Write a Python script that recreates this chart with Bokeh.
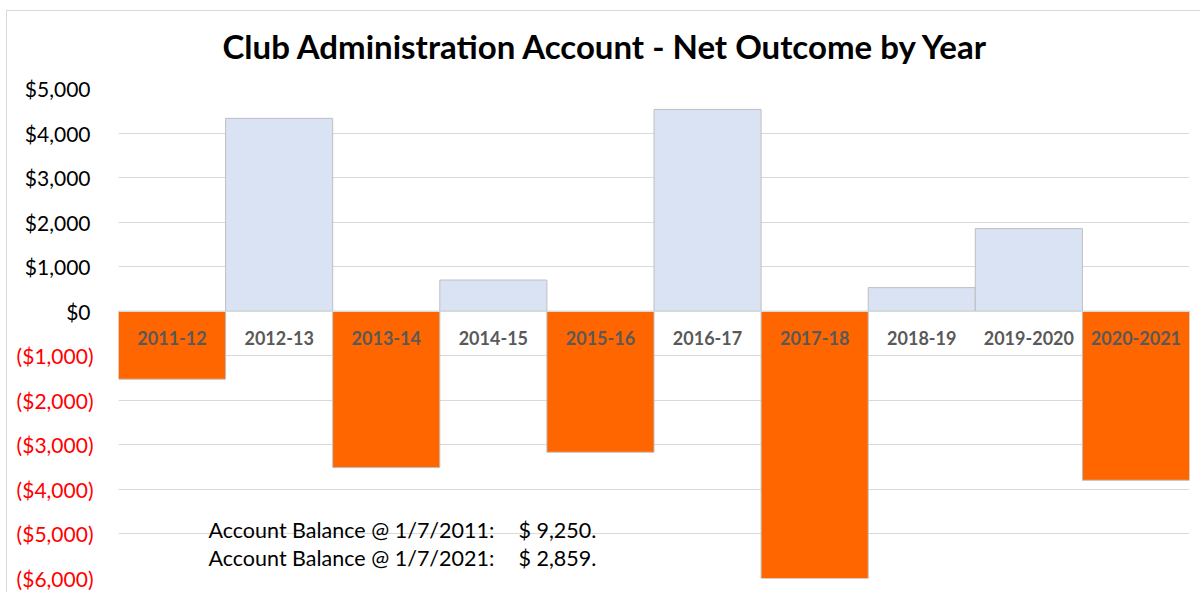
from bokeh.plotting import figure
from bokeh.models import FactorRange, Range1d, LinearAxis, FixedTicker, Label, ColumnDataSource
from bokeh.embed import file_html
from bokeh.resources import INLINE

# ---- data ----
years = ["2011-12", "2012-13", "2013-14", "2014-15", "2015-16",
         "2016-17", "2017-18", "2018-19", "2019-2020", "2020-2021"]
net_outcome = [-1525, 4330, -3510, 700, -3165, 4530, -6000, 530, 1855, -3795]

pos_ticks = [0, 1000, 2000, 3000, 4000, 5000]
pos_tick_labels = ["$0", "$1,000", "$2,000", "$3,000", "$4,000", "$5,000"]
neg_ticks = [-6000, -5000, -4000, -3000, -2000, -1000]
neg_tick_labels = ["($6,000)", "($5,000)", "($4,000)", "($3,000)", "($2,000)", "($1,000)"]

balance_labels = ["Account Balance @ 1/7/2011:", "Account Balance @ 1/7/2021:"]
balance_values = ["$ 9,250.", "$ 2,859."]

POS_COLOR = "#dae3f3"
NEG_COLOR = "#ff6600"
FONT = "Lato"

source = ColumnDataSource(dict(
    year=years,
    value=net_outcome,
    color=[POS_COLOR if v >= 0 else NEG_COLOR for v in net_outcome],
))

p = figure(
    x_range=FactorRange(factors=years),
    y_range=Range1d(-6000, 5000),
    width=1200, height=592,
    output_backend="svg", toolbar_location=None,
    title="Club Administration Account - Net Outcome by Year",
    min_border_left=118, min_border_right=11,
    min_border_top=88, min_border_bottom=14,
)
p.outline_line_color = None
p.background_fill_color = "white"
p.border_fill_color = None
# light chart-area border (top and left edges) drawn behind the transparent border area
p.styles = {
    "background": ("linear-gradient(#d9d9d9, #d9d9d9) 6px 10px / 1px 100% no-repeat, "
                   "linear-gradient(#d9d9d9, #d9d9d9) 6px 10px / 100% 1px no-repeat, white"),
}

p.vbar(x="year", top="value", bottom=0, width=1.0, source=source,
       fill_color="color", line_color="#bfbfbf", line_width=1)

# title
p.title.text_font = FONT
p.title.text_font_size = "33px"
p.title.text_font_style = "bold"
p.title.text_color = "#000000"
p.title.align = "left"
p.title.offset = 104
p.title.standoff = 46

# grid
p.xgrid.visible = False
p.ygrid.ticker = FixedTicker(ticks=neg_ticks + pos_ticks)
p.ygrid.grid_line_color = "#d9d9d9"
p.ygrid.grid_line_width = 1

# category axis at zero
xa = p.xaxis[0]
xa.fixed_location = 0
xa.axis_line_color = "#d9d9d9"
xa.major_tick_line_color = None
xa.minor_tick_line_color = None
xa.major_tick_out = 0
xa.major_tick_in = 0
xa.major_label_text_font = FONT
xa.major_label_text_font_size = "18px"
xa.major_label_text_font_style = "bold"
xa.major_label_text_color = "#595959"
xa.major_label_standoff = 20


def style_y(ax, color, standoff):
    ax.axis_line_color = None
    ax.major_tick_line_color = None
    ax.minor_tick_line_color = None
    ax.major_tick_out = 0
    ax.major_tick_in = 0
    ax.major_label_text_font = FONT
    ax.major_label_text_font_size = "21px"
    ax.major_label_text_color = color
    ax.major_label_standoff = standoff


# y axis (inner): non-negative labels in black
ya = p.yaxis[0]
ya.ticker = FixedTicker(ticks=pos_ticks)
ya.major_label_overrides = {t: s for t, s in zip(pos_ticks, pos_tick_labels)}
style_y(ya, "#000000", 28)

# y axis (outer): negative labels in red, pulled back to overlap the same column
yb = LinearAxis(ticker=FixedTicker(ticks=neg_ticks))
yb.major_label_overrides = {t: s for t, s in zip(neg_ticks, neg_tick_labels)}
style_y(yb, "#ff0000", -72)
p.add_layout(yb, "left")

# account balance notes
for i, (lab, val) in enumerate(zip(balance_labels, balance_values)):
    yv = -4916 - i * 628
    p.add_layout(Label(x=0.84, y=yv, text=lab, text_font=FONT, text_font_size="21.5px",
                       text_baseline="middle", text_align="left", text_color="#000000"))
    p.add_layout(Label(x=3.735, y=yv, text=val, text_font=FONT, text_font_size="21.5px",
                       text_baseline="middle", text_align="left", text_color="#000000"))

open("out.html", "w").write(file_html(p, INLINE))
